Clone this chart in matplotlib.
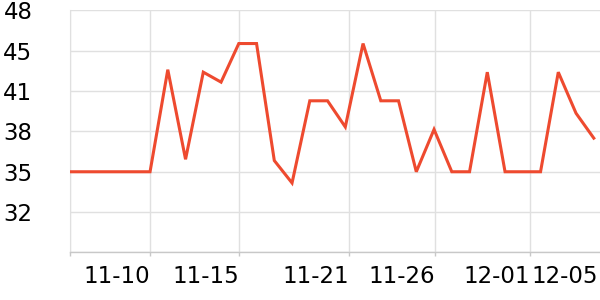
import matplotlib
matplotlib.use("Agg")
import matplotlib.pyplot as plt
from matplotlib.ticker import FixedLocator

# Day offsets relative to 11-10 (one point per day, from 11-05 to 12-05)
days = list(range(-5, 26))
values = [35, 35, 35, 35, 35, 35,
          43.2, 36.0, 43.0, 42.2, 45.3, 45.3, 35.9, 34.1, 40.7, 40.7,
          38.6, 45.3, 40.7, 40.7, 35.0, 38.4, 35.0, 35.0, 43.0, 35.0,
          35.0, 35.0, 43.0, 39.7, 37.7]

x_tick_pos = [0.0, 5.01, 11.23, 16.07, 21.43]
x_tick_labels = ["11-10", "11-15", "11-21", "11-26", "12-01"]
x_last_tick_pos = 25.25
x_last_tick_label = "12-05"

y_min, y_step = 28.53, 3.24
y_tick_labels = ["", "32", "35", "38", "41", "45", "48"]

fig = plt.figure(figsize=(6, 3), dpi=100)
ax = fig.add_axes([70 / 600, 47.7 / 300, 530 / 600, 242 / 300])

ax.plot(days, values, color="#ee4a2f", lw=2.2, solid_joinstyle="miter", zorder=3)

ax.set_xlim(-4.51, 25.35)
y_ticks = [y_min + y_step * k for k in range(7)]
ax.set_ylim(y_ticks[0], y_ticks[-1])

ax.set_yticks(y_ticks)
ax.set_yticklabels(y_tick_labels)
ax.tick_params(axis="y", length=0, pad=27, labelsize=16.5, colors="black")

ax.set_xticks([-4.51] + x_tick_pos)
ax.set_xticklabels([""] + x_tick_labels, ha="right")
ax.xaxis.set_minor_locator(FixedLocator([x_last_tick_pos]))
ax.set_xticklabels([x_last_tick_label], minor=True, ha="right")
ax.tick_params(axis="x", which="major", length=3, width=1, color="#c8c8c8",
               pad=6, labelsize=16.5)
ax.tick_params(axis="x", which="minor", length=0, pad=9, labelsize=16.5)
for lab in ax.get_xticklabels(which="both"):
    lab.set_horizontalalignment("right")

ax.grid(True, which="major", color="#e0e0e0", lw=1)
ax.set_axisbelow(True)

for s in ["top", "right"]:
    ax.spines[s].set_visible(False)
ax.spines["left"].set_color("#e0e0e0")
ax.spines["bottom"].set_color("#c8c8c8")
ax.spines["bottom"].set_linewidth(1)

fig.savefig("out.png", dpi=100)
